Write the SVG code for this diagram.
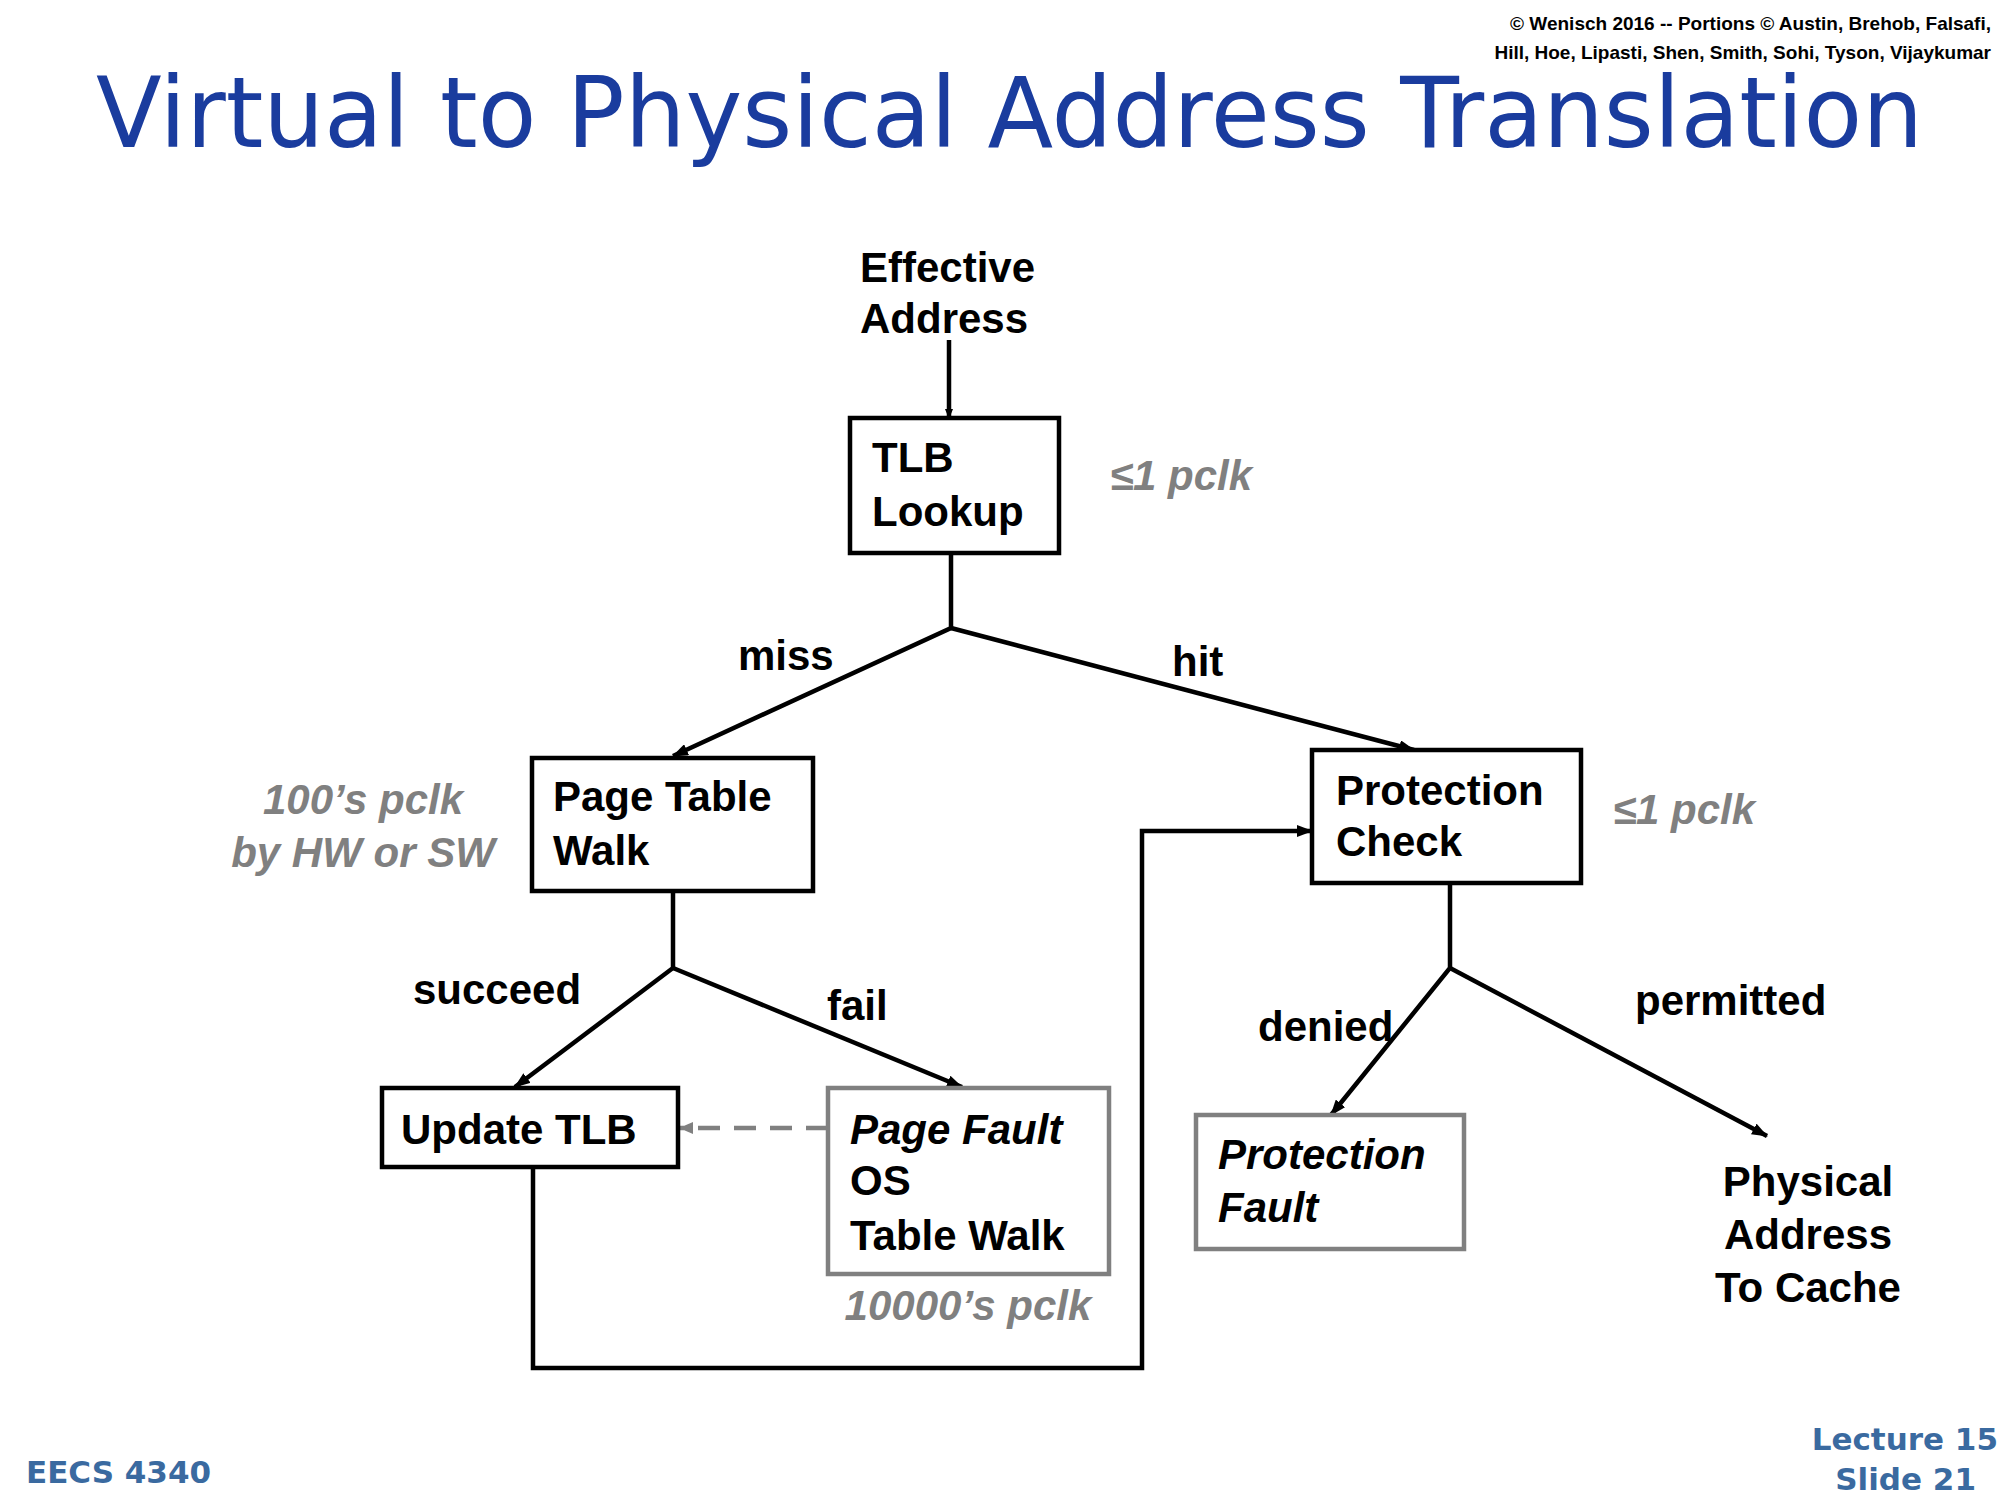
<svg xmlns="http://www.w3.org/2000/svg" width="2000" height="1500" viewBox="0 0 2000 1500">
<style>
.t{font-family:"Liberation Sans",Arial,sans-serif;font-weight:bold;font-size:42px;fill:#000}
.i{font-style:italic}
.g{fill:#808080;font-style:italic}
.box{fill:#fff;stroke:#000;stroke-width:4.5}
.gbox{fill:#fff;stroke:#808080;stroke-width:4.5}
.ln{fill:none;stroke:#000;stroke-width:4.5}
.cm{font-family:"DejaVu Sans",sans-serif;fill:#3a6aa0;font-size:31px;font-weight:bold}
</style>
<defs>
<marker id="a" markerWidth="10" markerHeight="8" refX="9" refY="4" orient="auto" markerUnits="userSpaceOnUse"><path d="M0,0 L10,4 L0,8 z" fill="#000"/></marker>
<marker id="ag" markerWidth="14" markerHeight="12" refX="13" refY="6" orient="auto" markerUnits="userSpaceOnUse"><path d="M0,0 L14,6 L0,12 z" fill="#808080"/></marker>
<marker id="ab" markerWidth="16" markerHeight="12" refX="15" refY="6" orient="auto" markerUnits="userSpaceOnUse"><path d="M0,0 L16,6 L0,12 z" fill="#000"/></marker>
</defs>
<rect width="2000" height="1500" fill="#fff"/>
<g id="header">
<text x="1991" y="30" class="t" style="font-size:19px" text-anchor="end">© Wenisch 2016 -- Portions © Austin, Brehob, Falsafi,</text>
<text x="1991" y="59" class="t" style="font-size:19px" text-anchor="end">Hill, Hoe, Lipasti, Shen, Smith, Sohi, Tyson, Vijaykumar</text>
<text x="96" y="147" font-family="DejaVu Sans,sans-serif" font-size="98" fill="#1a3c9e" textLength="1827" lengthAdjust="spacingAndGlyphs">Virtual to Physical Address Translation</text>
</g>
<g id="connectors">
<line x1="949" y1="340" x2="949" y2="418" class="ln" stroke-width="3.5" marker-end="url(#a)"/>
<polyline points="951,553 951,628 673,756" class="ln" marker-end="url(#ab)"/>
<polyline points="951,628 1414,750" class="ln" marker-end="url(#ab)"/>
<polyline points="673,891 673,968 515,1087" class="ln" marker-end="url(#ab)"/>
<polyline points="673,968 962,1087" class="ln" marker-end="url(#ab)"/>
<line x1="828" y1="1128" x2="680" y2="1128" stroke="#808080" stroke-width="4.5" stroke-dasharray="22,14" marker-end="url(#ag)"/>
<polyline points="533,1167 533,1368 1142,1368 1142,831 1312,831" class="ln" marker-end="url(#ab)"/>
<polyline points="1450,883 1450,968 1331,1115" class="ln" marker-end="url(#ab)"/>
<polyline points="1450,968 1767,1136" class="ln" marker-end="url(#ab)"/>
</g>
<g id="labels">
<text x="860" y="282" class="t">Effective</text>
<text x="860" y="333" class="t">Address</text>
<text x="738" y="670" class="t">miss</text>
<text x="1172" y="676" class="t">hit</text>
<text x="1110" y="490" class="t g">≤1 pclk</text>
<text x="363" y="814" class="t g" text-anchor="middle">100’s pclk</text>
<text x="363" y="867" class="t g" text-anchor="middle">by HW or SW</text>
<text x="1613" y="824" class="t g">≤1 pclk</text>
<text x="413" y="1004" class="t">succeed</text>
<text x="827" y="1020" class="t">fail</text>
<text x="968" y="1320" class="t g" text-anchor="middle">10000’s pclk</text>
<text x="1258" y="1041" class="t">denied</text>
<text x="1635" y="1015" class="t">permitted</text>
<text x="1808" y="1196" class="t" text-anchor="middle">Physical</text>
<text x="1808" y="1249" class="t" text-anchor="middle">Address</text>
<text x="1808" y="1302" class="t" text-anchor="middle">To Cache</text>
</g>
<g id="tlb"><rect x="850" y="418" width="209" height="135" class="box"/>
<text x="872" y="472" class="t">TLB</text><text x="872" y="526" class="t">Lookup</text></g>
<g id="ptw"><rect x="532" y="758" width="281" height="133" class="box"/>
<text x="553" y="811" class="t">Page Table</text><text x="553" y="865" class="t">Walk</text></g>
<g id="pc"><rect x="1312" y="750" width="269" height="133" class="box"/>
<text x="1336" y="805" class="t">Protection</text><text x="1336" y="856" class="t">Check</text></g>
<g id="utlb"><rect x="382" y="1088" width="296" height="79" class="box"/>
<text x="401" y="1144" class="t">Update TLB</text></g>
<g id="pf"><rect x="828" y="1088" width="281" height="186" class="gbox"/>
<text x="850" y="1144" class="t i">Page Fault</text><text x="850" y="1195" class="t">OS</text><text x="850" y="1250" class="t">Table Walk</text></g>
<g id="prf"><rect x="1196" y="1115" width="268" height="134" class="gbox"/>
<text x="1218" y="1169" class="t i">Protection</text><text x="1218" y="1222" class="t i">Fault</text></g>
<g id="footer">
<text x="26" y="1483" class="cm">EECS 4340</text>
<text x="1998" y="1450" class="cm" text-anchor="end">Lecture 15</text>
<text x="1976" y="1490" class="cm" text-anchor="end">Slide 21</text>
</g>
</svg>
